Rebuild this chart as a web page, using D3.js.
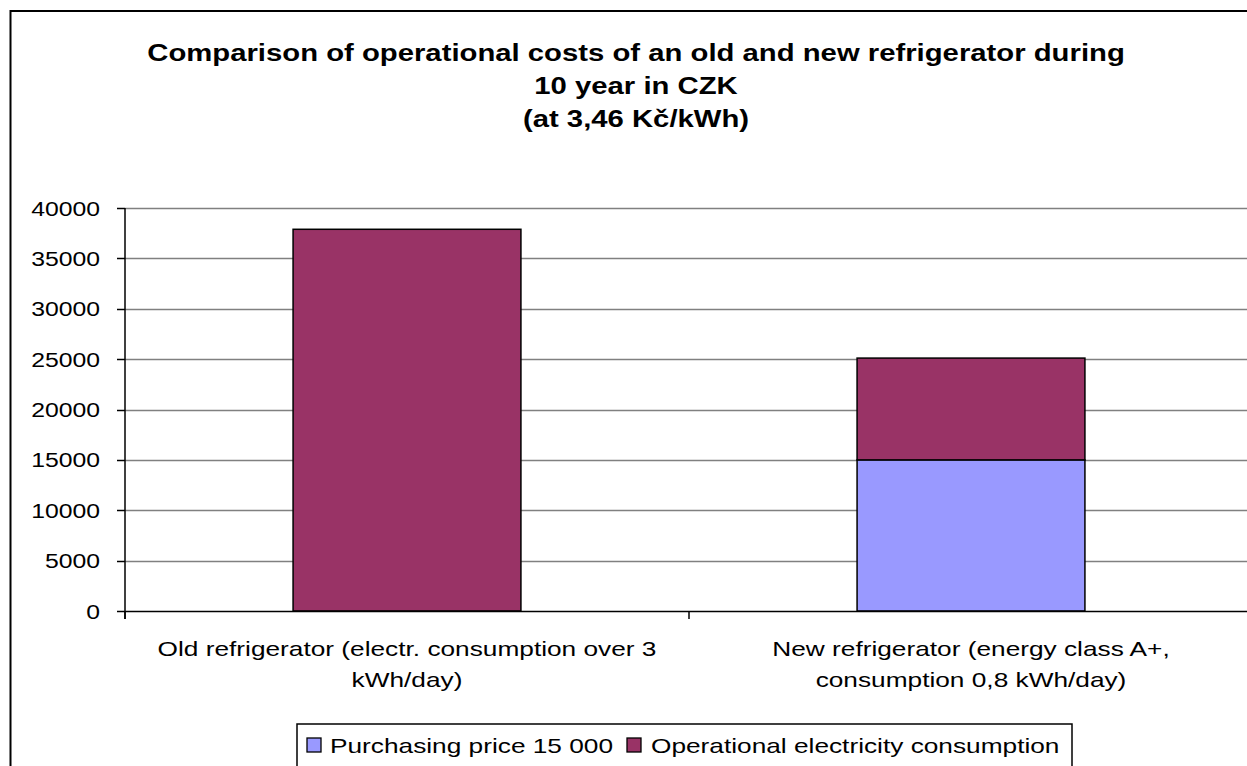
<!DOCTYPE html>
<html>
<head>
<meta charset="utf-8">
<script src="https://cdn.jsdelivr.net/npm/d3@7/dist/d3.min.js"></script>
<style>
  html, body { margin: 0; padding: 0; background: #fff; }
  svg { display: block; font-family: "Liberation Sans", Arial, sans-serif; }
</style>
</head>
<body>
<svg id="chart" width="1247" height="766"></svg>
<script>
// Ten-year cost of running an old vs. a new refrigerator (CZK)
const categories = [
  ["Old refrigerator (electr. consumption over  3", "kWh/day)"],
  ["New refrigerator (energy class A+,", "consumption 0,8 kWh/day)"]
];
const categoryKeys = ["old", "new"];
const purchasePrice = [0, 15000];
const electricityCost = [37887, 10103];
const seriesNames = ["Purchasing price 15 000", "Operational electricity consumption"];
const yTicks = [0, 5000, 10000, 15000, 20000, 25000, 30000, 35000, 40000];
const titleLines = [
  "Comparison of operational costs of an old and new refrigerator during",
  "10 year in CZK",
  "(at 3,46 K\u010d/kWh)"
];

const colors = ["#9999FF", "#993366"];

const svg = d3.select("#chart");
const W = 1247, H = 766;

// chart frame
svg.append("rect")
  .attr("x", 10.5).attr("y", 11).attr("width", W + 10).attr("height", H + 10)
  .attr("fill", "#fff").attr("stroke", "#000").attr("stroke-width", 2);

const plot = { left: 125, right: 1253, top: 208, bottom: 611 };

const x = d3.scaleBand()
  .domain(categoryKeys)
  .range([plot.left, plot.right])
  .paddingInner(0.596)
  .paddingOuter(0.298);

const y = d3.scaleLinear().domain([0, 40000]).range([plot.bottom, plot.top]);

// text drawn with a horizontal stretch (wide glyph rendering)
function stretchedText(sel, px, py, anchor, sx) {
  return sel.append("text")
    .attr("transform", `translate(${px},${py}) scale(${sx},1)`)
    .attr("text-anchor", anchor);
}

// gridlines
svg.append("g")
  .selectAll("line")
  .data(yTicks.filter(v => v > 0))
  .join("line")
  .attr("x1", plot.left).attr("x2", plot.right)
  .attr("y1", d => Math.round(y(d)) + 0.5).attr("y2", d => Math.round(y(d)) + 0.5)
  .attr("stroke", "#808080").attr("stroke-width", 1.5);

// stacked bars
const stackData = categoryKeys.map((k, i) => ({ key: k, purchase: purchasePrice[i], electricity: electricityCost[i] }));
const stack = d3.stack().keys(["purchase", "electricity"]);
const layers = stack(stackData);

svg.append("g")
  .selectAll("g")
  .data(layers)
  .join("g")
  .attr("fill", (d, i) => colors[i])
  .selectAll("rect")
  .data(d => d.filter(s => s[1] - s[0] > 0))
  .join("rect")
  .attr("x", d => x(d.data.key))
  .attr("width", x.bandwidth())
  .attr("y", d => y(d[1]))
  .attr("height", d => y(d[0]) - y(d[1]))
  .attr("stroke", "#000").attr("stroke-width", 1.5);

// y axis
const yAxis = svg.append("g").attr("transform", `translate(${plot.left},0)`);
yAxis.append("line")
  .attr("x1", 0).attr("x2", 0).attr("y1", plot.top).attr("y2", plot.bottom + 8)
  .attr("stroke", "#000").attr("stroke-width", 1.5);
yAxis.selectAll("line.tick")
  .data(yTicks)
  .join("line").attr("class", "tick")
  .attr("x1", -8).attr("x2", 0)
  .attr("y1", d => Math.round(y(d)) + 0.5).attr("y2", d => Math.round(y(d)) + 0.5)
  .attr("stroke", "#000").attr("stroke-width", 1.5);
yTicks.forEach(v => {
  stretchedText(svg, 100, y(v) + 7.5, "end", 1.18)
    .attr("font-size", 21).attr("fill", "#000").text(String(v));
});

// x axis
svg.append("line")
  .attr("x1", plot.left).attr("x2", plot.right)
  .attr("y1", plot.bottom + 0.5).attr("y2", plot.bottom + 0.5)
  .attr("stroke", "#000").attr("stroke-width", 1.5);
const step = x.step();
[plot.left, plot.left + step, plot.right].forEach(tx => {
  svg.append("line")
    .attr("x1", tx).attr("x2", tx).attr("y1", plot.bottom).attr("y2", plot.bottom + 8)
    .attr("stroke", "#000").attr("stroke-width", 1.5);
});
categoryKeys.forEach((k, i) => {
  const cx = x(k) + x.bandwidth() / 2;
  categories[i].forEach((line, j) => {
    stretchedText(svg, cx, 656 + j * 31, "middle", 1.25)
      .attr("font-size", 21).attr("fill", "#000").text(line);
  });
});

// title
titleLines.forEach((line, i) => {
  stretchedText(svg, 636, 61 + i * 33, "middle", 1.22)
    .attr("font-size", 24).attr("font-weight", "bold").attr("fill", "#000").text(line);
});

// legend
const legend = svg.append("g");
legend.append("rect")
  .attr("x", 297).attr("y", 724).attr("width", 775).attr("height", 60)
  .attr("fill", "#fff").attr("stroke", "#000").attr("stroke-width", 1.5);
const legendItems = [{ x: 307, textX: 330 }, { x: 627, textX: 651 }];
seriesNames.forEach((name, i) => {
  legend.append("rect")
    .attr("x", legendItems[i].x).attr("y", 738).attr("width", 14).attr("height", 14)
    .attr("fill", colors[i]).attr("stroke", "#000").attr("stroke-width", 1.3);
  stretchedText(legend, legendItems[i].textX, 753, "start", 1.25)
    .attr("font-size", 21).attr("fill", "#000").text(name);
});
</script>
</body>
</html>
